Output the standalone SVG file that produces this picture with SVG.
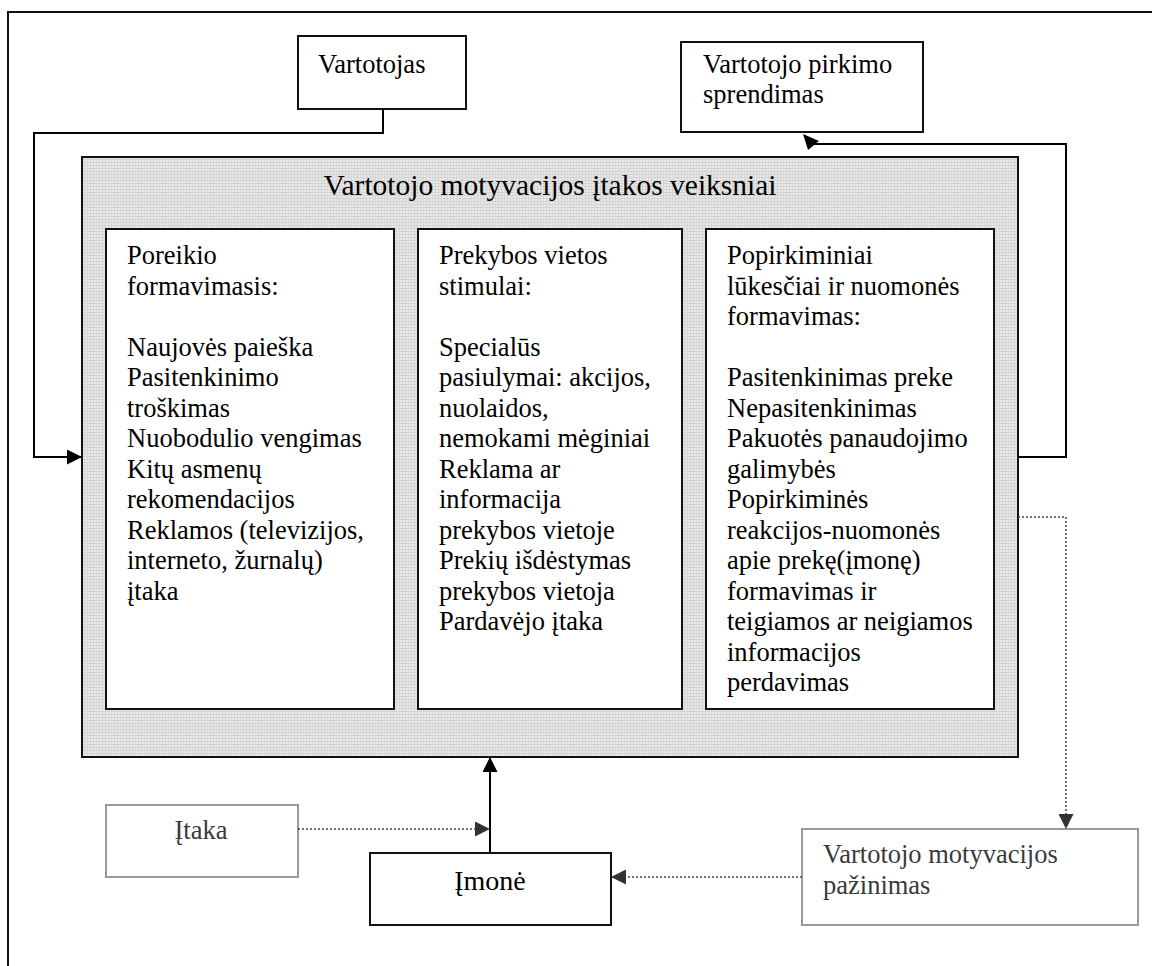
<svg xmlns="http://www.w3.org/2000/svg" width="1152" height="966" viewBox="0 0 1152 966">
  <defs>
    <!-- fine grid texture for the shaded factor panel -->
    <pattern id="shade" width="3" height="3" patternUnits="userSpaceOnUse">
      <rect width="3" height="3" fill="#e9e9e9"/>
      <rect width="3" height="1" fill="#d2d2d2"/>
      <rect width="1" height="3" fill="#d6d6d6"/>
    </pattern>
    <marker id="arrow" viewBox="0 0 15 15" refX="15" refY="7.5" markerWidth="15" markerHeight="15" markerUnits="userSpaceOnUse" orient="auto">
      <path d="M0,0 L15,7.5 L0,15 Z" fill="#000"/>
    </marker>
    <marker id="arrow-grey" viewBox="0 0 15 15" refX="15" refY="7.5" markerWidth="15" markerHeight="15" markerUnits="userSpaceOnUse" orient="auto">
      <path d="M0,0 L15,7.5 L0,15 Z" fill="#333"/>
    </marker>
  </defs>
  <style>
    text { font-family: "Liberation Serif", "Times New Roman", serif; fill: #000; }
    .body { font-size: 26.5px; }
    .title { font-size: 29.5px; }
    .muted { fill: #3a3a3a; }
    .box { fill: #fff; stroke: #111; stroke-width: 2; }
    .box-grey { fill: #fff; stroke: #999; stroke-width: 2; }
    .panel { fill: url(#shade); stroke: #111; stroke-width: 2; }
    .link { fill: none; stroke: #000; stroke-width: 2; }
    .link-dotted { fill: none; stroke: #444; stroke-width: 1.5; stroke-dasharray: 2 2; }
  </style>

  <rect width="1152" height="966" fill="#fff"/>

  <!-- outer frame -->
  <path d="M8,970 V12 H1160" fill="none" stroke="#111" stroke-width="2"/>

  <g id="vartotojas">
    <rect class="box" x="298" y="36" width="168" height="73"/>
    <text class="body" x="318" y="73">Vartotojas</text>
  </g>

  <g id="pirkimo-sprendimas">
    <rect class="box" x="681" y="42" width="242" height="90"/>
    <text class="body" x="703" y="73">Vartotojo pirkimo</text>
    <text class="body" x="703" y="103">sprendimas</text>
  </g>

  <g id="veiksniai">
    <rect class="panel" x="82" y="157" width="936" height="600"/>
    <text class="title" x="550" y="195" text-anchor="middle">Vartotojo motyvacijos įtakos veiksniai</text>
  </g>

  <g id="poreikio-formavimasis">
    <rect class="box" x="106" y="229" width="288" height="480"/>
    <text class="body" x="127" y="264">
      <tspan x="127" dy="0">Poreikio</tspan>
      <tspan x="127" dy="30.5">formavimasis:</tspan>
      <tspan x="127" dy="61">Naujovės paieška</tspan>
      <tspan x="127" dy="30.5">Pasitenkinimo</tspan>
      <tspan x="127" dy="30.5">troškimas</tspan>
      <tspan x="127" dy="30.5">Nuobodulio vengimas</tspan>
      <tspan x="127" dy="30.5">Kitų asmenų</tspan>
      <tspan x="127" dy="30.5">rekomendacijos</tspan>
      <tspan x="127" dy="30.5">Reklamos (televizijos,</tspan>
      <tspan x="127" dy="30.5">interneto, žurnalų)</tspan>
      <tspan x="127" dy="30.5">įtaka</tspan>
    </text>
  </g>

  <g id="prekybos-stimulai">
    <rect class="box" x="418" y="229" width="264" height="480"/>
    <text class="body" x="439" y="264">
      <tspan x="439" dy="0">Prekybos vietos</tspan>
      <tspan x="439" dy="30.5">stimulai:</tspan>
      <tspan x="439" dy="61">Specialūs</tspan>
      <tspan x="439" dy="30.5">pasiulymai: akcijos,</tspan>
      <tspan x="439" dy="30.5">nuolaidos,</tspan>
      <tspan x="439" dy="30.5">nemokami mėginiai</tspan>
      <tspan x="439" dy="30.5">Reklama ar</tspan>
      <tspan x="439" dy="30.5">informacija</tspan>
      <tspan x="439" dy="30.5">prekybos vietoje</tspan>
      <tspan x="439" dy="30.5">Prekių išdėstymas</tspan>
      <tspan x="439" dy="30.5">prekybos vietoja</tspan>
      <tspan x="439" dy="30.5">Pardavėjo įtaka</tspan>
    </text>
  </g>

  <g id="popirkiminiai-lukesciai">
    <rect class="box" x="706" y="229" width="288" height="480"/>
    <text class="body" x="727" y="264">
      <tspan x="727" dy="0">Popirkiminiai</tspan>
      <tspan x="727" dy="30.5">lūkesčiai ir nuomonės</tspan>
      <tspan x="727" dy="30.5">formavimas:</tspan>
      <tspan x="727" dy="61">Pasitenkinimas preke</tspan>
      <tspan x="727" dy="30.5">Nepasitenkinimas</tspan>
      <tspan x="727" dy="30.5">Pakuotės panaudojimo</tspan>
      <tspan x="727" dy="30.5">galimybės</tspan>
      <tspan x="727" dy="30.5">Popirkiminės</tspan>
      <tspan x="727" dy="30.5">reakcijos-nuomonės</tspan>
      <tspan x="727" dy="30.5">apie prekę(įmonę)</tspan>
      <tspan x="727" dy="30.5">formavimas ir</tspan>
      <tspan x="727" dy="30.5">teigiamos ar neigiamos</tspan>
      <tspan x="727" dy="30.5">informacijos</tspan>
      <tspan x="727" dy="30.5">perdavimas</tspan>
    </text>
  </g>

  <g id="itaka">
    <rect class="box-grey" x="106" y="805" width="192" height="72"/>
    <text class="body muted" x="201" y="839" text-anchor="middle">Įtaka</text>
  </g>

  <g id="imone">
    <rect class="box" x="370" y="853" width="241" height="72"/>
    <text x="490" y="890" text-anchor="middle" font-size="28">Įmonė</text>
  </g>

  <g id="motyvacijos-pazinimas">
    <rect class="box-grey" x="802" y="829" width="336" height="96"/>
    <text class="body muted" x="823" y="863">Vartotojo motyvacijos</text>
    <text class="body muted" x="823" y="894">pažinimas</text>
  </g>

  <g id="connectors">
    <path class="link" d="M383,109 V133 H34 V457 H82" marker-end="url(#arrow)"/>
    <path class="link" d="M1018,457 H1066 V144 H814"/>
    <polygon points="803,134 819,141 808,150" fill="#000"/>
    <path class="link" d="M490,853 V757" marker-end="url(#arrow)"/>
    <path class="link-dotted" d="M298,829 H490" marker-end="url(#arrow-grey)"/>
    <path class="link-dotted" d="M1018,517 H1066 V829" marker-end="url(#arrow-grey)"/>
    <path class="link-dotted" d="M802,877 H611" marker-end="url(#arrow-grey)"/>
  </g>
</svg>
